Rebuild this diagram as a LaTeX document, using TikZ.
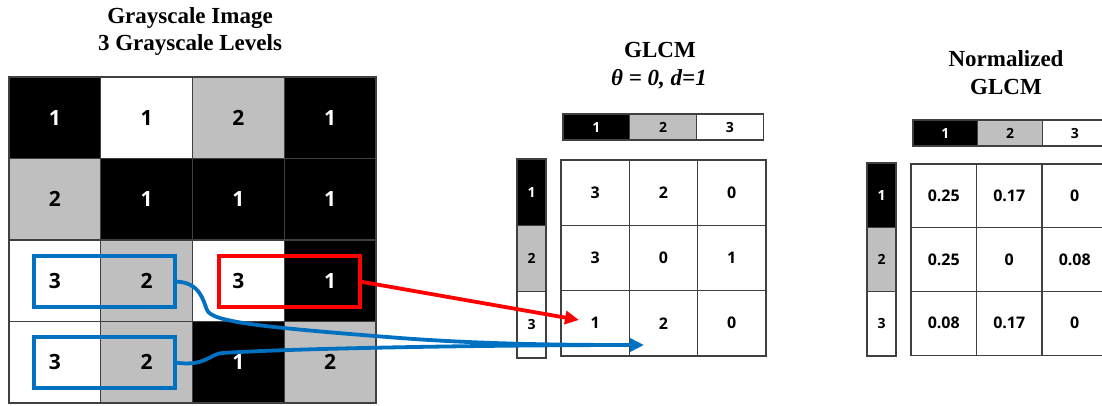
\documentclass[tikz,border=0pt]{standalone}
\usepackage{fontspec}
\setmainfont{Liberation Serif}
\newfontfamily\numfont{Open Sans}
\usetikzlibrary{arrows.meta}
\definecolor{cellgray}{HTML}{BFBFBF}
\definecolor{gridline}{HTML}{404040}
\definecolor{pairblue}{HTML}{0070C0}
\definecolor{pairred}{HTML}{FF0000}

\begin{document}
\begin{tikzpicture}[x=1pt,y=-1pt,
  basecell/.style={draw=gridline, line width=1.2pt, inner sep=0pt, outer sep=0pt},
  imgcell/.style={basecell, minimum width=91.75pt, minimum height=81.5pt,
    font=\numfont\bfseries\fontsize{21}{21}\selectfont},
  hdrcell/.style={basecell, font=\numfont\bfseries\fontsize{14}{14}\selectfont},
  valcell/.style={basecell, fill=white, font=\numfont\bfseries\fontsize{16}{16}\selectfont},
  title/.style={font=\bfseries\fontsize{23}{23}\selectfont, anchor=base, inner sep=0pt},
  pairbox/.style={draw=#1, line width=3.8pt, minimum width=141pt, minimum height=51pt,
    inner sep=0pt, outer sep=0pt},
  pairarrow/.style={draw=#1, line width=3.8pt, -{Triangle[length=14pt,width=13pt]}},
]
\useasboundingbox (0,0) rectangle (1102,405);
\clip (0,0) rectangle (1102,405);

% ---------- grayscale image ----------
\node[title] (img-title1) at (190,23) {Grayscale Image};
\node[title] (img-title2) at (190,50) {3 Grayscale Levels};

\foreach \c/\r/\v/\f/\t in {
    0/0/1/black/white, 1/0/1/white/black, 2/0/2/cellgray/black, 3/0/1/black/white,
    0/1/2/cellgray/black, 1/1/1/black/white, 2/1/1/black/white, 3/1/1/black/white,
    0/2/3/white/black, 1/2/2/cellgray/black, 2/2/3/white/black, 3/2/1/black/white,
    0/3/3/white/black, 1/3/2/cellgray/black, 2/3/1/black/white, 3/3/2/cellgray/black}
  \node[imgcell, fill=\f, text=\t] (img-\r-\c) at ({9+91.75*(\c+0.5)}, {77+81.5*(\r+0.5)}) {\v};

% ---------- GLCM ----------
\node[title] (glcm-title1) at (660,57) {GLCM};
\node[title] (glcm-title2) at (659,85) {\textit{θ = 0, d=1}};

\foreach \c/\f/\t in {0/black/white, 1/cellgray/black, 2/white/black}
  \node[hdrcell, fill=\f, text=\t, minimum width=66.7pt, minimum height=26pt]
    (glcm-col-\c) at ({563+66.7*(\c+0.5)}, 127) {\the\numexpr\c+1\relax};

\foreach \r/\f/\t in {0/black/white, 1/cellgray/black, 2/white/black}
  \node[hdrcell, fill=\f, text=\t, minimum width=29pt, minimum height=66.3pt]
    (glcm-row-\r) at (531.5, {159+66.3*(\r+0.5)}) {\the\numexpr\r+1\relax};

\foreach \r/\c/\v in {0/0/3, 0/1/2, 0/2/0, 1/0/3, 1/1/0, 1/2/1, 2/0/1, 2/1/2, 2/2/0}
  \node[valcell, minimum width=68.3pt, minimum height=65.3pt]
    (glcm-\r-\c) at ({561+68.3*(\c+0.5)}, {160+65.3*(\r+0.5)}) {\v};

% ---------- normalized GLCM ----------
\node[title] (norm-title1) at (1006,66) {Normalized};
\node[title] (norm-title2) at (1006,94) {GLCM};

\foreach \c/\f/\t in {0/black/white, 1/cellgray/black, 2/white/black}
  \node[hdrcell, fill=\f, text=\t, minimum width=64.7pt, minimum height=26pt]
    (norm-col-\c) at ({913+64.7*(\c+0.5)}, 133) {\the\numexpr\c+1\relax};

\foreach \r/\f/\t in {0/black/white, 1/cellgray/black, 2/white/black}
  \node[hdrcell, fill=\f, text=\t, minimum width=29pt, minimum height=64.3pt]
    (norm-row-\r) at (881.5, {163+64.3*(\r+0.5)}) {\the\numexpr\r+1\relax};

\foreach \r/\c/\v in {0/0/0.25, 0/1/0.17, 0/2/0, 1/0/0.25, 1/1/0, 1/2/0.08, 2/0/0.08, 2/1/0.17, 2/2/0}
  \node[valcell, minimum width=65.5pt, minimum height=63.7pt]
    (norm-\r-\c) at ({911+65.5*(\c+0.5)}, {164+63.7*(\r+0.5)}) {\v};

% ---------- pixel pairs and their counts ----------
\node[pairbox=pairblue] (pair-a) at (104.5,281.5) {};
\node[pairbox=pairblue] (pair-b) at (104.5,362.5) {};
\node[pairbox=pairred]  (pair-r) at (289.5,281.5) {};

\coordinate (red-tip) at (579,320);
\coordinate (blue-tip) at (644,345);
\coordinate (blue-join) at (632,345);

\draw[pairarrow=pairred] (pair-r.east) -- (red-tip);

\draw[draw=pairblue, line width=3.8pt]
  (pair-b.east) .. controls (205,367) and (210,354) .. (222,353)
  .. controls (300,348) and (500,345) .. (blue-join);
\draw[pairarrow=pairblue]
  (pair-a.east) .. controls (200,282) and (203,300) .. (207,310)
  .. controls (212,322) and (260,327) .. (400,338)
  .. controls (480,344) and (560,345) .. (blue-tip);
\end{tikzpicture}
\end{document}
